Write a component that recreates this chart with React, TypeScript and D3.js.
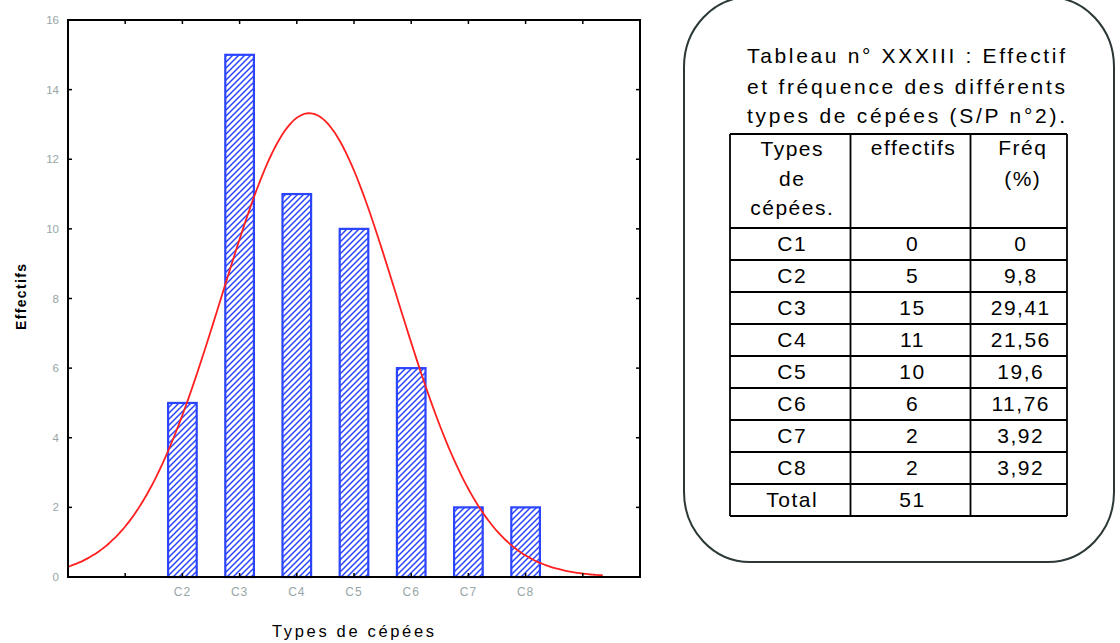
import React from "react";
import * as d3 from "d3";

// Counts per stump type (C1..C8) and relative frequencies as printed in the table
const categories = ["C1", "C2", "C3", "C4", "C5", "C6", "C7", "C8"];
const counts = [0, 5, 15, 11, 10, 6, 2, 2];
const freqLabels = ["0", "9,8", "29,41", "21,56", "19,6", "11,76", "3,92", "3,92"];
const totalLabel = "51";
const yTicks = [0, 2, 4, 6, 8, 10, 12, 14, 16];
const xTickPositions = [1, 2, 3, 4, 5, 6, 7, 8, 9];
const titleLines = [
  "Tableau n° XXXIII : Effectif",
  "et fréquence des différents",
  "types de cépées (S/P n°2).",
];

const W = 1120;
const H = 643;
const plot = { left: 68, right: 640, top: 20, bottom: 577 };

export default function App() {
  const x = d3.scaleLinear().domain([0, 10]).range([plot.left, plot.right]);
  const y = d3.scaleLinear().domain([0, 16]).range([plot.bottom, plot.top]);

  // Fitted normal curve from the class counts (class k sits at position k)
  const n = d3.sum(counts);
  const mean = d3.sum(counts, (c, i) => c * (i + 1)) / n;
  const ss = d3.sum(counts, (c, i) => c * (i + 1 - mean) ** 2);
  const sd = Math.sqrt(ss / (n - 1));
  const density = (v: number) =>
    (n / (sd * Math.sqrt(2 * Math.PI))) * Math.exp(-0.5 * ((v - mean) / sd) ** 2);
  const curveXs = d3.range(0, 9.4, 0.05);
  const line = d3
    .line<number>()
    .x((v) => x(v))
    .y((v) => y(density(v)))
    .curve(d3.curveMonotoneX);

  const barHalf = 0.25;
  const font = "'Liberation Sans', Arial, sans-serif";
  const tickColor = "#97a6a6";

  // table geometry
  const colX = [730, 850.5, 970.5, 1067];
  const headTop = 134;
  const rowTop = 228;
  const rowH = 32;
  const rows = [
    ...categories.map((c, i) => [c, String(counts[i]), freqLabels[i]]),
    ["Total", totalLabel, ""],
  ];
  const tableBottom = rowTop + rows.length * rowH;
  const colCenter = (j: number) => (colX[j] + colX[j + 1]) / 2;

  return (
    <svg width={W} height={H} style={{ position: "absolute", left: 0, top: 0, background: "#fff" }}>
      <defs>
        <pattern id="hatch" patternUnits="userSpaceOnUse" width="6" height="6">
          <path d="M-1,1 L1,-1 M0,6 L6,0 M5,7 L7,5" stroke="#2a44ff" strokeWidth="1.5" />
        </pattern>
      </defs>
      <rect x={0} y={0} width={W} height={H} fill="#fff" />

      {/* bars */}
      {counts.map((c, i) =>
        c > 0 ? (
          <rect
            key={categories[i]}
            x={x(i + 1 - barHalf)}
            y={y(c)}
            width={x(i + 1 + barHalf) - x(i + 1 - barHalf)}
            height={y(0) - y(c)}
            fill="url(#hatch)"
            stroke="#2a44ff"
            strokeWidth={2.2}
          />
        ) : null
      )}

      {/* normal fit */}
      <path d={line(curveXs) || ""} fill="none" stroke="#ff2020" strokeWidth={1.8} />

      {/* frame */}
      <rect
        x={plot.left}
        y={plot.top}
        width={plot.right - plot.left}
        height={plot.bottom - plot.top}
        fill="none"
        stroke="#000"
        strokeWidth={2}
      />
      {xTickPositions.map((t) => (
        <g key={"xt" + t}>
          <line x1={x(t)} x2={x(t)} y1={plot.bottom} y2={plot.bottom - 4} stroke="#000" strokeWidth={1.5} />
          <line x1={x(t)} x2={x(t)} y1={plot.top} y2={plot.top + 4} stroke="#000" strokeWidth={1.5} />
        </g>
      ))}
      {yTicks.slice(1, -1).map((t) => (
        <g key={"yt" + t}>
          <line x1={plot.left} x2={plot.left + 4} y1={y(t)} y2={y(t)} stroke="#000" strokeWidth={1.5} />
          <line x1={plot.right} x2={plot.right - 4} y1={y(t)} y2={y(t)} stroke="#000" strokeWidth={1.5} />
        </g>
      ))}
      {yTicks.map((t) => (
        <text
          key={"yl" + t}
          x={59}
          y={y(t) + 4}
          textAnchor="end"
          fontFamily={font}
          fontSize={11.5}
          fill={tickColor}
        >
          {t}
        </text>
      ))}
      {categories.map((c, i) =>
        counts[i] > 0 ? (
          <text
            key={"xl" + c}
            x={x(i + 1)}
            y={596}
            textAnchor="middle"
            fontFamily={font}
            fontSize={12}
            letterSpacing={1}
            fill={tickColor}
          >
            {c}
          </text>
        ) : null
      )}
      <text
        x={353}
        y={637}
        textAnchor="middle"
        fontFamily={font}
        fontSize={16.5}
        fill="#000"
        textLength={162}
        lengthAdjust="spacing"
      >
        Types de cépées
      </text>
      <text
        transform="translate(26,297) rotate(-90)"
        textAnchor="middle"
        fontFamily={font}
        fontSize={14}
        fontWeight="bold"
        fill="#000"
        textLength={66}
        lengthAdjust="spacing"
      >
        Effectifs
      </text>

      {/* rounded box around the table */}
      <rect x={684} y={-3} width={430} height={565} rx={66} ry={70} fill="none" stroke="#2c3838" strokeWidth={2} />

      {titleLines.map((t, i) => (
        <text
          key={"tt" + i}
          x={747}
          y={[63, 94, 123][i]}
          fontFamily={font}
          fontSize={21}
          fill="#000"
          textLength={318}
          lengthAdjust="spacing"
        >
          {t}
        </text>
      ))}

      {/* table grid */}
      <g stroke="#000" strokeWidth={1.8}>
        <line x1={colX[0]} x2={colX[3]} y1={headTop} y2={headTop} />
        {rows.map((_, r) => (
          <line key={"hl" + r} x1={colX[0]} x2={colX[3]} y1={rowTop + r * rowH} y2={rowTop + r * rowH} />
        ))}
        <line x1={colX[0]} x2={colX[3]} y1={tableBottom} y2={tableBottom} />
        {colX.map((cx, j) => (
          <line key={"vl" + j} x1={cx} x2={cx} y1={headTop} y2={tableBottom} />
        ))}
      </g>
      <g fontFamily={font} fontSize={21} fill="#000" textAnchor="middle" letterSpacing={1.5}>
        <text x={colCenter(0) + 2} y={156}>Types</text>
        <text x={colCenter(0) + 2} y={186}>de</text>
        <text x={colCenter(0) + 2} y={215}>cépées.</text>
        <text x={colCenter(1) + 3} y={155}>effectifs</text>
        <text x={colCenter(2) + 4} y={155}>Fréq</text>
        <text x={colCenter(2) + 4} y={186}>(%)</text>
        {rows.map((row, r) =>
          row.map((cell, j) => (
            <text key={`c${r}-${j}`} x={colCenter(j) + 2} y={rowTop + r * rowH + 23}>
              {cell}
            </text>
          ))
        )}
      </g>
    </svg>
  );
}
